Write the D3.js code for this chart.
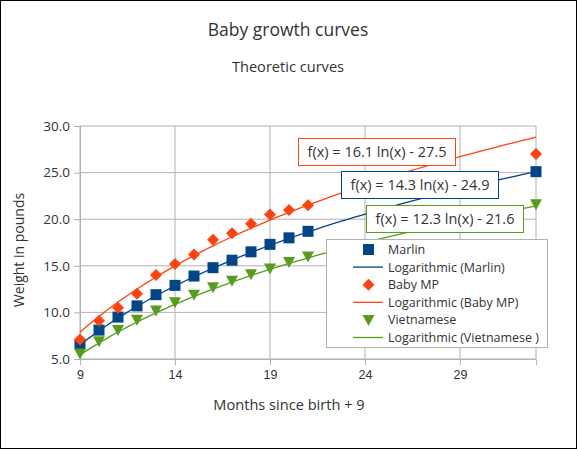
<!DOCTYPE html>
<html><head><meta charset="utf-8">
<script src="https://cdn.jsdelivr.net/npm/d3@7"></script>
<style>body{margin:0;background:#fff}svg{display:block}</style>
</head><body>
<script>
const months = [9,10,11,12,13,14,15,16,17,18,19,20,21,33];
const marlin = [6.6,8.1,9.5,10.7,11.9,12.9,13.9,14.8,15.6,16.5,17.3,18.0,18.7,25.1];
const babyMP = [7.1,9.1,10.5,12.0,14.0,15.2,16.2,17.8,18.5,19.5,20.5,21.0,21.5,27.0];
const vietnamese = [5.6,6.9,8.1,9.2,10.2,11.1,11.9,12.7,13.4,14.1,14.7,15.4,16.0,21.6];
const seriesNames = ["Marlin","Baby MP","Vietnamese"];
const trendNames = ["Logarithmic (Marlin)","Logarithmic (Baby MP)","Logarithmic (Vietnamese )"];
const trendA = [14.3,16.1,12.3];
const trendB = [-24.9,-27.5,-21.6];
const equations = ["f(x) = 14.3 ln(x) - 24.9","f(x) = 16.1 ln(x) - 27.5","f(x) = 12.3 ln(x) - 21.6"];
const xTicks = [9,14,19,24,29];
const yTicks = [5,10,15,20,25,30];
const colors = ["#004586","#ff420e","#579d1c"];
const shapes = ["square","diamond","triangle"];

const W=577,H=449;
const svg=d3.select("body").append("svg").attr("width",W).attr("height",H);
svg.append("rect").attr("x",0.5).attr("y",0.5).attr("width",W-1).attr("height",H-1).attr("fill","#fff").attr("stroke","#000");

const x=d3.scaleLinear().domain([9,33]).range([80,536]);
const y=d3.scaleLinear().domain([5,30]).range([359,126]);
const grid="#b3b3b3", txt="#333";
const TF="'Open Sans', sans-serif";

svg.append("text").attr("x",288).attr("y",36).attr("text-anchor","middle").attr("font-family",TF).attr("font-size",17.5).attr("fill",txt).text("Baby growth curves");
svg.append("text").attr("x",288).attr("y",72).attr("text-anchor","middle").attr("font-family",TF).attr("font-size",14.6).attr("fill",txt).text("Theoretic curves");

// gridlines
svg.append("g").selectAll("line").data(yTicks).join("line")
  .attr("x1",x(9)).attr("x2",x(33)).attr("y1",d=>y(d)).attr("y2",d=>y(d)).attr("stroke",grid);
svg.append("g").selectAll("line").data(xTicks.concat([33])).join("line")
  .attr("x1",d=>x(d)).attr("x2",d=>x(d)).attr("y1",y(5)).attr("y2",y(30)).attr("stroke",grid);

// axes
const ya=svg.append("g").attr("transform",`translate(${x(9)},0)`).call(d3.axisLeft(y).tickValues(yTicks).tickFormat(d3.format(".1f")).tickSize(6).tickPadding(4));
const xa=svg.append("g").attr("transform",`translate(0,${y(5)})`).call(d3.axisBottom(x).tickValues(xTicks).tickSize(6).tickPadding(5));
[ya,xa].forEach(a=>{a.select(".domain").attr("stroke",grid);a.selectAll(".tick line").attr("stroke",grid);});
ya.selectAll("text").attr("font-family",TF).attr("font-size",13.5).attr("fill",txt);
xa.selectAll("text").attr("font-family","'Liberation Sans', sans-serif").attr("font-size",12.5).attr("fill",txt);

svg.append("text").attr("transform","translate(24,250) rotate(-90)").attr("text-anchor","middle").attr("font-family",TF).attr("font-size",14).attr("fill",txt).text("Weight in pounds");
svg.append("text").attr("x",289).attr("y",410).attr("text-anchor","middle").attr("font-family",TF).attr("font-size",14.6).attr("fill",txt).text("Months since birth + 9");

// trend lines
const xs=d3.range(9,33.001,0.25);
const line=d3.line().x(d=>x(d[0])).y(d=>y(d[1]));
trendA.forEach((a,i)=>{
  svg.append("path").datum(xs.map(v=>[v,a*Math.log(v)+trendB[i]])).attr("d",line).attr("fill","none").attr("stroke",colors[i]).attr("stroke-width",1.3);
});

function marker(g,shape,cx,cy,c){
  if(shape==="square") g.append("rect").attr("x",cx-5.5).attr("y",cy-5.5).attr("width",11).attr("height",11).attr("fill",c);
  else if(shape==="diamond") g.append("path").attr("d",`M${cx},${cy-6}L${cx+6},${cy}L${cx},${cy+6}L${cx-6},${cy}Z`).attr("fill",c);
  else g.append("path").attr("d",`M${cx-6},${cy-5}L${cx+6},${cy-5}L${cx},${cy+6}Z`).attr("fill",c);
}
[marlin,babyMP,vietnamese].forEach((vals,i)=>{
  const g=svg.append("g");
  vals.forEach((v,j)=>marker(g,shapes[i],x(months[j]),y(v),colors[i]));
});

// equation boxes
const eqBoxes=[[341,171,157,27],[298,138,157,27],[366,205,157,27]];
const eqOrder=[1,0,2];
eqOrder.forEach(i=>{
  const b=eqBoxes[i];
  svg.append("rect").attr("x",b[0]+0.5).attr("y",b[1]+0.5).attr("width",b[2]).attr("height",b[3]).attr("fill","#fff").attr("stroke",colors[i]);
  svg.append("text").attr("x",b[0]+b[2]/2+0.5).attr("y",b[1]+b[3]/2+5.5).attr("text-anchor","middle").attr("font-family",TF).attr("font-size",14.5).attr("fill",txt).text(equations[i]);
});

// legend
const lg=svg.append("g");
lg.append("rect").attr("x",326.5).attr("y",239.5).attr("width",221).attr("height",108).attr("fill","#fff").attr("stroke",grid);
const items=[];
seriesNames.forEach((n,i)=>{items.push({t:n,k:"m",i});items.push({t:trendNames[i],k:"l",i});});
items.forEach((it,r)=>{
  const cy=249.5+r*17.6;
  if(it.k==="m") marker(lg,shapes[it.i],368.5,cy,colors[it.i]);
  else lg.append("line").attr("x1",353).attr("x2",383).attr("y1",cy).attr("y2",cy).attr("stroke",colors[it.i]).attr("stroke-width",1.3);
  lg.append("text").attr("x",388).attr("y",cy+4.5).attr("font-family",TF).attr("font-size",12.5).attr("fill",txt).text(it.t);
});
</script>
</body></html>
